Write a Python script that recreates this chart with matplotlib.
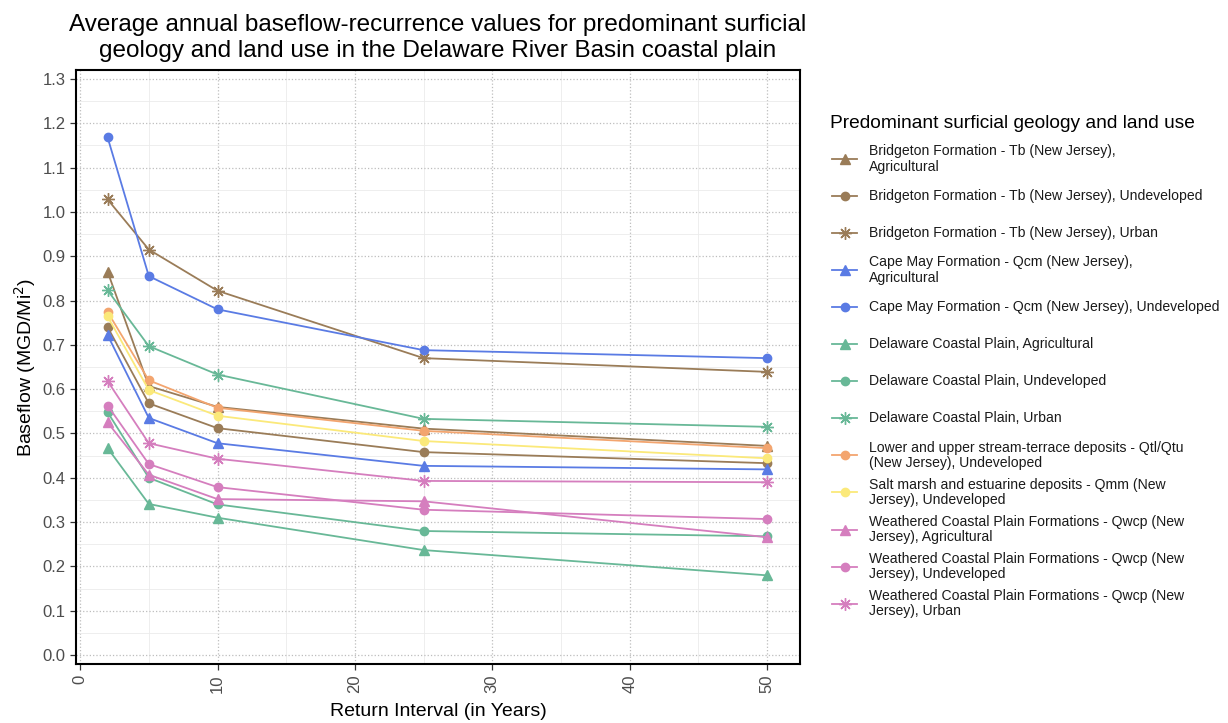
import matplotlib
matplotlib.use("Agg")
import matplotlib.pyplot as plt
from matplotlib.lines import Line2D
from matplotlib.ticker import MultipleLocator

plt.rcParams['font.family'] = ['Liberation Sans', 'DejaVu Sans']

return_interval = [2, 5, 10, 25, 50]

labels = [
    "Bridgeton Formation - Tb (New Jersey),\nAgricultural",
    "Bridgeton Formation - Tb (New Jersey), Undeveloped",
    "Bridgeton Formation - Tb (New Jersey), Urban",
    "Cape May Formation - Qcm (New Jersey),\nAgricultural",
    "Cape May Formation - Qcm (New Jersey), Undeveloped",
    "Delaware Coastal Plain, Agricultural",
    "Delaware Coastal Plain, Undeveloped",
    "Delaware Coastal Plain, Urban",
    "Lower and upper stream-terrace deposits - Qtl/Qtu\n(New Jersey), Undeveloped",
    "Salt marsh and estuarine deposits - Qmm (New\nJersey), Undeveloped",
    "Weathered Coastal Plain Formations - Qwcp (New\nJersey), Agricultural",
    "Weathered Coastal Plain Formations - Qwcp (New\nJersey), Undeveloped",
    "Weathered Coastal Plain Formations - Qwcp (New\nJersey), Urban",
]

baseflow = [
    [0.865, 0.607, 0.560, 0.511, 0.472],
    [0.740, 0.568, 0.512, 0.458, 0.433],
    [1.028, 0.915, 0.822, 0.670, 0.639],
    [0.722, 0.535, 0.478, 0.427, 0.419],
    [1.168, 0.855, 0.780, 0.688, 0.670],
    [0.467, 0.341, 0.310, 0.237, 0.180],
    [0.548, 0.400, 0.340, 0.280, 0.268],
    [0.823, 0.697, 0.633, 0.533, 0.515],
    [0.774, 0.620, 0.558, 0.506, 0.467],
    [0.764, 0.598, 0.540, 0.483, 0.444],
    [0.525, 0.407, 0.352, 0.347, 0.266],
    [0.563, 0.431, 0.379, 0.328, 0.307],
    [0.618, 0.478, 0.443, 0.393, 0.390],
]

brown, blue, green = '#9A7C58', '#5A7BE4', '#68B897'
orange, yellow, pink = '#F3A56F', '#FBE97A', '#D57EBE'
colors = [brown, brown, brown, blue, blue, green, green, green,
          orange, yellow, pink, pink, pink]
tri, dot, ast = '^', 'o', (8, 2, 0)
markers = [tri, dot, ast, tri, dot, tri, dot, ast, dot, dot, tri, dot, ast]


def msize(m):
    return {'^': 7, 'o': 6}.get(m, 9)


fig = plt.figure(figsize=(12.28, 7.23), dpi=100, facecolor='white')
ax = fig.add_axes([76 / 1228, 1 - 664 / 723, 724 / 1228, 594 / 723])

for vals, col, mk in zip(baseflow, colors, markers):
    ax.plot(return_interval, vals, color=col, lw=1.3, marker=mk,
            markersize=msize(mk), markeredgewidth=1.0, mec=col, mfc=col, zorder=3)

ax.set_xlim(-0.3, 52.4)
ax.set_ylim(-0.02, 1.32)
ax.xaxis.set_major_locator(MultipleLocator(10))
ax.xaxis.set_minor_locator(MultipleLocator(5))
ax.yaxis.set_major_locator(MultipleLocator(0.1))
ax.yaxis.set_minor_locator(MultipleLocator(0.05))
ax.yaxis.set_major_formatter(matplotlib.ticker.FormatStrFormatter('%.1f'))
ax.grid(which='major', color='#BDBDBD', linestyle=':', linewidth=0.9, zorder=0)
ax.grid(which='minor', color='#EBEBEB', linestyle='-', linewidth=0.6, zorder=0)
ax.tick_params(which='major', direction='out', length=4, width=0.9,
               color='#333333', labelcolor='#4D4D4D', labelsize=12)
ax.tick_params(which='minor', length=0)
ax.tick_params(axis='x', labelrotation=90)
for s in ax.spines.values():
    s.set_linewidth(1.5)
    s.set_color('black')

ax.set_xlabel('Return Interval (in Years)', fontsize=14, color='black', labelpad=7)
ax.set_ylabel('Baseflow (MGD/Mi$^2$)', fontsize=14, color='black', labelpad=3)
ax.set_title('Average annual baseflow-recurrence values for predominant surficial\n'
             'geology and land use in the Delaware River Basin coastal plain',
             fontsize=17.5, color='black', pad=9, linespacing=1.28)

# legend, laid out like the ggplot guide (evenly spaced keys)
W, H = 1228, 723
fig.text(830 / W, 1 - 123 / H, 'Predominant surficial geology and land use',
         fontsize=13.8, va='center', ha='left')
for i, (lab, col, mk) in enumerate(zip(labels, colors, markers)):
    yc = 1 - (159 + 37.05 * i) / H
    fig.add_artist(Line2D([832 / W, 857 / W], [yc, yc], color=col, lw=1.3))
    fig.add_artist(Line2D([844.5 / W], [yc], color=col, marker=mk,
                          markersize=msize(mk), markeredgewidth=1.0, mfc=col, mec=col))
    fig.text(869 / W, yc, lab, fontsize=10.1, va='center', ha='left',
             color='#1A1A1A', linespacing=1.15)

fig.savefig('out.png', dpi=100, facecolor='white')
